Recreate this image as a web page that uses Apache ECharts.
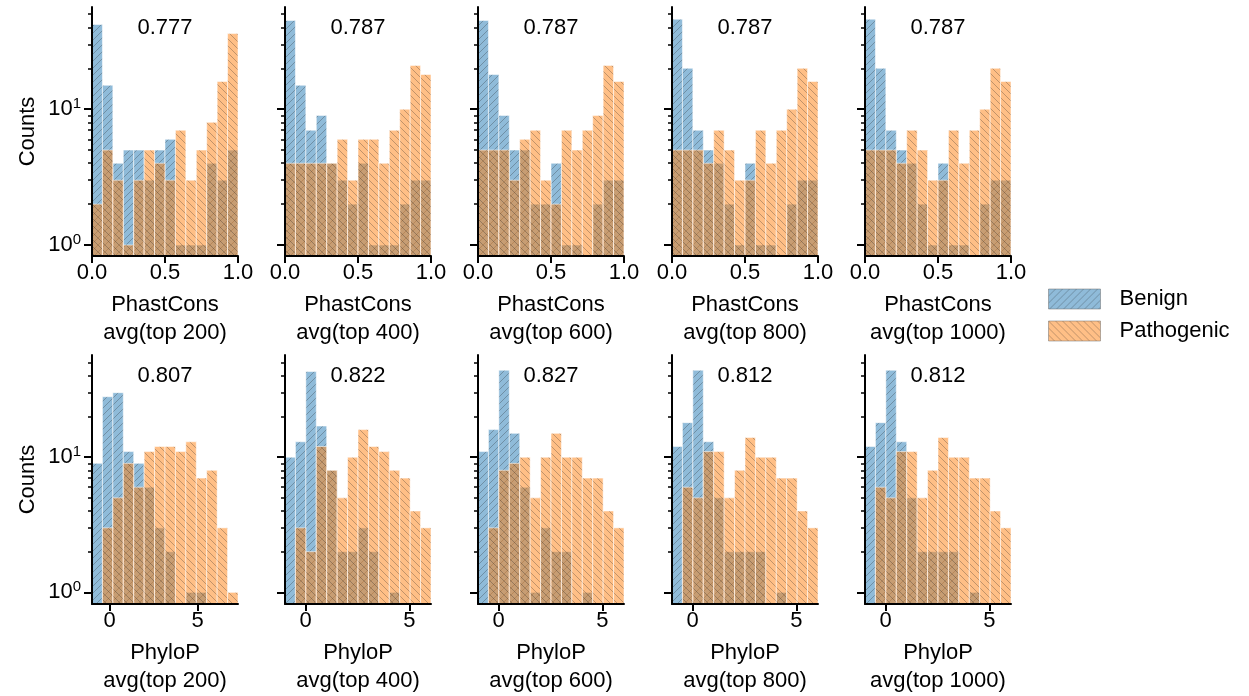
<!DOCTYPE html>
<html>
<head>
<meta charset="utf-8">
<script src="https://cdn.jsdelivr.net/npm/echarts@6/dist/echarts.min.js"></script>
<style>
  html, body { margin: 0; padding: 0; background: #fff; }
  #chart { width: 1249px; height: 696px; }
</style>
</head>
<body>
<div id="chart"></div>
<script>
// counts per bin (14 bins each)
const benignPC200 = [42, 15, 4, 5, 5, 3, 5, 6, 1, 1, 1, 4, 3, 5]
const pathoPC200 = [2, 5, 3, 1, 3, 5, 4, 3, 7, 3, 5, 8, 16, 36]
const benignPC400 = [45, 15, 7, 9, 4, 3, 2, 4, 1, 1, 1, 2, 3, 3]
const pathoPC400 = [4, 4, 4, 4, 4, 6, 3, 6, 6, 4, 7, 10, 21, 18]
const benignPC600 = [45, 18, 9, 5, 5, 2, 2, 4, 1, 1, 0, 2, 3, 3]
const pathoPC600 = [5, 5, 5, 3, 6, 7, 3, 2, 7, 5, 7, 9, 21, 16]
const benignPC800 = [46, 20, 7, 5, 4, 2, 1, 4, 1, 1, 0, 2, 3, 3]
const pathoPC800 = [5, 5, 5, 4, 7, 5, 3, 3, 7, 4, 7, 10, 20, 16]
const benignPC1000 = [46, 20, 7, 5, 4, 2, 1, 4, 1, 1, 0, 2, 3, 3]
const pathoPC1000 = [5, 5, 5, 4, 7, 5, 3, 3, 7, 4, 7, 10, 20, 16]

const benignPP200 = [9, 28, 30, 11, 9, 6, 3, 2, 0, 1, 1, 0, 0, 0]
const pathoPP200 = [0, 3, 5, 9, 6, 11, 12, 12, 11, 13, 7, 8, 3, 1]
const benignPP400 = [10, 13, 43, 17, 8, 2, 2, 3, 2, 0, 1, 0, 0, 0]
const pathoPP400 = [0, 3, 2, 12, 8, 5, 10, 16, 12, 11, 8, 7, 4, 3]
const benignPP600 = [11, 16, 44, 15, 6, 1, 3, 2, 2, 0, 1, 0, 0, 0]
const pathoPP600 = [0, 3, 8, 9, 10, 5, 10, 15, 10, 10, 7, 7, 4, 3]
const benignPP800 = [12, 18, 44, 13, 5, 2, 2, 2, 2, 0, 1, 0, 0, 0]
const pathoPP800 = [0, 6, 5, 11, 11, 5, 8, 14, 10, 10, 7, 7, 4, 3]
const benignPP1000 = [12, 18, 44, 13, 5, 2, 2, 2, 2, 0, 1, 0, 0, 0]
const pathoPP1000 = [0, 6, 5, 11, 11, 5, 8, 14, 10, 10, 7, 7, 4, 3]

// bin ranges (x extent of each histogram)
const phastRange = [0, 1]
const phyloRanges = [[-1.0, 7.3], [-1.0, 6.05], [-1.0, 6.05], [-1.0, 6.05], [-1.0, 6.05]]

const aucTop = ['0.777', '0.787', '0.787', '0.787', '0.787']
const aucBottom = ['0.807', '0.822', '0.827', '0.812', '0.812']
const topN = ['avg(top 200)', 'avg(top 400)', 'avg(top 600)', 'avg(top 800)', 'avg(top 1000)']
const seriesNames = ['Benign', 'Pathogenic']

const phastTicks = [0, 0.5, 1]
const phyloTicks = [0, 5]
const yMajor = [1, 10]
const yMinor = [2, 3, 4, 5, 6, 7, 8, 9, 20, 30, 40, 50]
const rowYRange = [[0.83, 56.5], [0.82, 57]]

const FONT = '"Liberation Sans", Arial, Helvetica, sans-serif'
const colLeft = [92, 285, 478, 672, 865]
const colWidth = 146
const rowTop = [7, 355]
const rowHeight = [249, 250]

// hatch tiles: '/' for benign, '\' for pathogenic
function hatch (fill, dir) {
  let s = 7
  let c = document.createElement('canvas')
  c.width = s
  c.height = s
  let ctx = c.getContext('2d')
  ctx.fillStyle = fill
  ctx.fillRect(0, 0, s, s)
  ctx.strokeStyle = 'rgba(30,30,30,0.28)'
  ctx.lineWidth = 1
  ctx.beginPath()
  for (let k = -s; k <= s; k += s) {
    if (dir > 0) {
      ctx.moveTo(k, s)
      ctx.lineTo(k + s, 0)
    } else {
      ctx.moveTo(k, 0)
      ctx.lineTo(k + s, s)
    }
  }
  ctx.stroke()
  return { image: c, repeat: 'repeat' }
}
const blueFill = hatch('rgba(31,119,180,0.5)', 1)
const orangeFill = hatch('rgba(255,127,14,0.5)', -1)

function binRows (counts, range) {
  let w = (range[1] - range[0]) / counts.length
  let rows = []
  counts.forEach((c, i) => {
    if (c > 0) rows.push([range[0] + i * w, range[0] + (i + 1) * w, c])
  })
  return rows
}

function barRenderer (fill, yMin) {
  return function (params, api) {
    let c = api.value(2)
    let p0 = api.coord([api.value(0), c])
    let p1 = api.coord([api.value(1), yMin])
    return {
      type: 'rect',
      shape: { x: p0[0], y: p0[1], width: p1[0] - p0[0], height: p1[1] - p0[1] },
      style: { fill: fill, stroke: 'rgba(255,255,255,0.55)', lineWidth: 1 }
    }
  }
}

const panels = [
  [benignPC200, pathoPC200], [benignPC400, pathoPC400], [benignPC600, pathoPC600],
  [benignPC800, pathoPC800], [benignPC1000, pathoPC1000],
  [benignPP200, pathoPP200], [benignPP400, pathoPP400], [benignPP600, pathoPP600],
  [benignPP800, pathoPP800], [benignPP1000, pathoPP1000]
]

let grid = [], xAxis = [], yAxis = [], series = [], graphic = []
const log10 = v => Math.log(v) / Math.LN10

panels.forEach((p, k) => {
  let row = k < 5 ? 0 : 1
  let col = k % 5
  let yr = rowYRange[row]
  let range = row === 0 ? phastRange : phyloRanges[col]
  let ticks = row === 0 ? phastTicks : phyloTicks
  grid.push({ left: colLeft[col], top: rowTop[row], width: colWidth, height: rowHeight[row] })

  xAxis.push({
    gridIndex: k, type: 'value', position: 'bottom', min: range[0], max: range[1], z: 5,
    splitLine: { show: false },
    axisLine: { show: true, onZero: false, lineStyle: { color: '#000', width: 2 } },
    axisTick: { show: true, length: 7, lineStyle: { color: '#000', width: 2 }, customValues: ticks },
    axisLabel: {
      customValues: ticks, margin: 6, fontSize: 22, fontFamily: FONT, color: '#000',
      formatter: v => row === 0 ? v.toFixed(1) : String(v)
    },
    name: (row === 0 ? 'PhastCons' : 'PhyloP') + '\n' + topN[col],
    nameLocation: 'middle', nameGap: 35,
    nameTextStyle: { fontSize: 22, lineHeight: 28, fontFamily: FONT, color: '#000' }
  })

  // main log axis: carries the bars and the spine
  yAxis.push({
    gridIndex: k, type: 'log', logBase: 10, position: 'left', min: yr[0], max: yr[1], z: 5,
    splitLine: { show: false },
    axisLine: { show: true, onZero: false, lineStyle: { color: '#000', width: 2 } },
    axisTick: { show: false },
    axisLabel: { show: false },
    name: col === 0 ? 'Counts' : '',
    nameLocation: 'middle', nameGap: 53, nameRotate: 90,
    nameTextStyle: { fontSize: 22, fontFamily: FONT, color: '#000' }
  })
  // major decades, in log10 units of the same extent
  yAxis.push({
    gridIndex: k, type: 'value', position: 'left', offset: 0, min: log10(yr[0]), max: log10(yr[1]), z: 5,
    splitLine: { show: false },
    axisLine: { show: false, onZero: false },
    axisTick: { show: true, length: 8, customValues: yMajor.map(log10), lineStyle: { color: '#000', width: 2 } },
    axisLabel: {
      show: col === 0, customValues: yMajor.map(log10), margin: 11,
      formatter: v => '{b|10}{s|' + Math.round(v) + '}',
      rich: {
        b: { fontSize: 22, fontFamily: FONT, color: '#000' },
        s: { fontSize: 15, fontFamily: FONT, color: '#000', padding: [0, 0, 11, 0] }
      }
    }
  })
  // minor ticks
  yAxis.push({
    gridIndex: k, type: 'value', position: 'left', offset: 0, min: log10(yr[0]), max: log10(yr[1]), z: 5,
    splitLine: { show: false },
    axisLine: { show: false, onZero: false },
    axisTick: { show: true, length: 4, customValues: yMinor.map(log10), lineStyle: { color: '#000', width: 1.5 } },
    axisLabel: { show: false }
  })

  ;[blueFill, orangeFill].forEach((fill, s) => {
    series.push({
      type: 'custom',
      name: seriesNames[s],
      xAxisIndex: k,
      yAxisIndex: k * 3,
      clip: true,
      z: 2,
      itemStyle: { color: fill },
      dimensions: ['x0', 'x1', 'count'],
      encode: { x: [0, 1], y: 2 },
      renderItem: barRenderer(fill, yr[0]),
      data: binRows(p[s], range)
    })
  })

  graphic.push({
    type: 'text',
    x: colLeft[col] + colWidth / 2,
    y: rowTop[row] + 21,
    style: {
      text: row === 0 ? aucTop[col] : aucBottom[col],
      fontSize: 22, fontFamily: FONT, fill: '#000',
      align: 'center', verticalAlign: 'middle',
      textAlign: 'center', textVerticalAlign: 'middle'
    }
  })
})

let chart = echarts.init(document.getElementById('chart'), null, { renderer: 'canvas' })
chart.setOption({
  animation: false,
  backgroundColor: '#fff',
  grid: grid,
  xAxis: xAxis,
  yAxis: yAxis,
  series: series,
  graphic: graphic,
  legend: {
    orient: 'vertical', left: 1048, top: 288, padding: 0,
    itemWidth: 52, itemHeight: 20, itemGap: 10,
    icon: 'rect',
    selectedMode: false,
    textStyle: { fontSize: 22, fontFamily: FONT, color: '#000', padding: [0, 0, 0, 14] },
    data: [
      { name: 'Benign', itemStyle: { color: blueFill, borderColor: 'rgba(110,110,110,0.5)', borderWidth: 1 } },
      { name: 'Pathogenic', itemStyle: { color: orangeFill, borderColor: 'rgba(110,110,110,0.5)', borderWidth: 1 } }
    ]
  }
})
</script>
</body>
</html>
